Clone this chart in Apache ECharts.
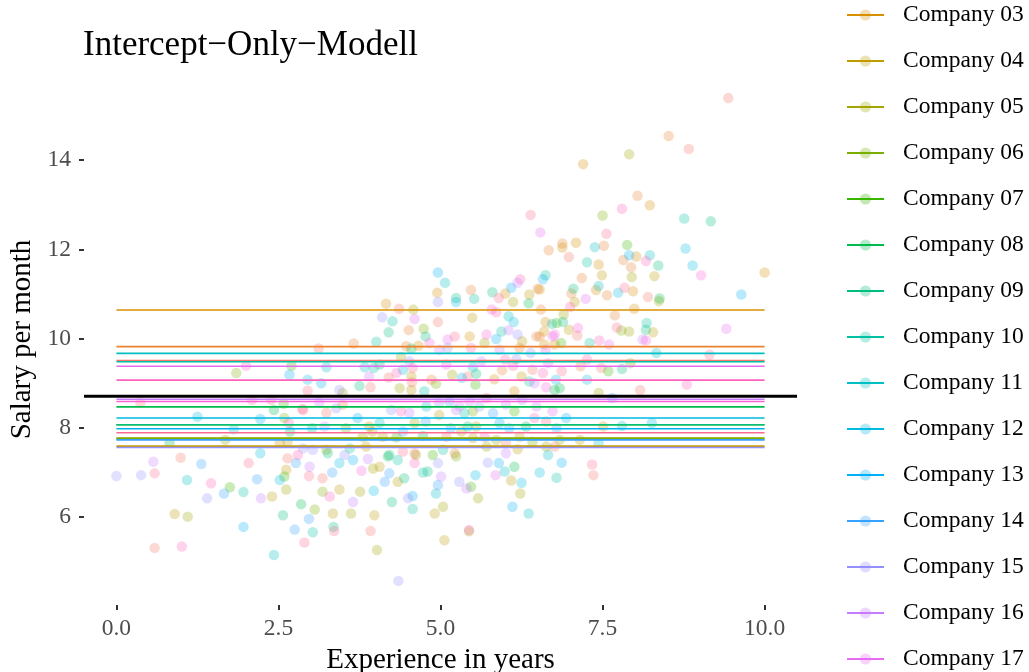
<!DOCTYPE html>
<html>
<head>
<meta charset="utf-8">
<script src="https://cdn.jsdelivr.net/npm/echarts@6/dist/echarts.min.js"></script>
<style>html,body{margin:0;padding:0;background:#fff;overflow:hidden}#chart{width:1029px;height:672px}</style>
</head>
<body>
<div id="chart"></div>
<script>
const companies = ["Company 01","Company 02","Company 03","Company 04","Company 05","Company 06","Company 07","Company 08","Company 09","Company 10","Company 11","Company 12","Company 13","Company 14","Company 15","Company 16","Company 17","Company 18","Company 19","Company 20"];
const colors = ["#F8766D","#EA8331","#D89000","#C09B00","#A3A500","#7CAE00","#39B600","#00BB4E","#00BF7D","#00C1A3","#00BFC4","#00BAE0","#00B0F6","#35A2FF","#9590FF","#C77CFF","#E76BF3","#FA62DB","#FF62BC","#FF6C91"];
const intercepts = [9.51, 9.82, 10.64, 7.59, 7.77, 7.76, 8.07, 8.47, 8.07, 9.48, 9.67, 8.22, 7.98, 7.73, 7.56, 8.64, 9.38, 8.59, 9.07, 7.89];
const overallMean = 8.71;
const xTicks = [0, 2.5, 5, 7.5, 10];
const yTicks = [6, 8, 10, 12, 14];

const c01 = [[8.83,14.25],[6.98,11.83],[8.20,10.93],[7.11,10.07],[4.36,10.67],[3.12,9.78],[4.20,9.13],[5.42,9.15],[6.42,9.30],[3.24,8.34],[5.09,7.80],[6.01,7.66],[4.60,7.43],[7.36,6.94],[3.92,5.69],[0.99,7.33],[0.59,5.31],[2.64,7.32],[0.37,8.56],[2.39,8.63],[7.48,9.34],[8.08,8.85],[6.76,7.58],[9.44,15.39],[4.96,10.37],[3.92,8.91],[4.56,9.02],[3.18,6.87]];
const c02 = [[8.04,13.20],[6.88,12.13],[6.67,11.98],[7.52,12.08],[7.82,11.76],[7.94,11.60],[7.18,11.36],[7.02,11.01],[7.57,10.97],[6.55,10.65],[7.69,10.52],[6.53,10.05],[5.47,11.09],[6.50,11.12],[4.51,10.19],[3.66,9.89],[6.48,10.05],[4.47,9.83],[6.22,9.79],[4.86,9.08],[5.95,9.29],[3.49,8.52],[5.22,7.43],[7.16,9.38],[8.52,14.54]];
const c03 = [[7.20,13.91],[8.23,12.99],[7.09,12.15],[6.88,12.04],[7.44,11.66],[8.02,11.84],[10.0,11.48],[6.53,11.10],[7.40,11.09],[7.97,11.06],[7.99,10.67],[6.60,10.16],[4.95,11.03],[6.00,11.01],[4.16,10.78],[6.62,10.37],[5.45,10.05],[6.60,9.87],[4.66,9.84],[6.76,9.87],[5.83,9.09],[6.14,8.82],[3.90,8.03],[2.52,7.66],[7.51,8.03]];
const c04 = [[7.49,11.42],[8.30,11.40],[7.07,10.82],[6.98,10.20],[8.28,10.14],[6.37,10.99],[5.49,10.47],[6.26,9.94],[4.55,9.15],[4.55,8.85],[6.25,9.15],[3.95,7.92],[4.11,7.80],[4.98,8.29],[5.32,7.92],[6.22,7.80],[5.50,7.77],[3.85,7.58],[6.19,7.52],[4.06,7.13],[4.34,6.79],[6.09,6.82],[7.15,7.73],[3.44,6.62],[3.34,6.08],[3.98,6.04],[4.91,6.08],[5.06,5.48],[0.90,6.07],[2.40,6.46],[2.62,7.06],[2.64,7.69]];
const c05 = [[7.91,14.13],[7.95,11.38],[8.37,10.84],[6.90,10.54],[7.91,10.16],[6.12,10.82],[4.58,10.65],[5.68,9.90],[4.39,9.59],[4.37,8.89],[5.18,9.19],[3.49,8.78],[3.80,7.80],[4.60,8.11],[5.55,8.03],[5.86,7.73],[6.63,7.58],[3.24,7.51],[5.71,7.58],[3.96,7.09],[4.62,7.39],[5.58,6.42],[6.23,6.53],[6.84,7.73],[3.76,6.57],[3.62,6.08],[4.02,5.26],[5.04,6.23],[5.44,5.68],[1.10,6.01],[2.62,6.62],[1.68,7.73],[7.44,8.78]];
const c06 = [[7.50,12.76],[7.79,10.18],[4.74,10.22],[4.93,8.99],[3.54,7.99],[5.50,8.37],[6.42,7.69],[5.24,7.36],[3.18,6.57],[3.06,6.17],[1.85,9.23],[2.59,8.22],[7.93,9.45]];
const c07 = [[7.88,12.10],[6.86,9.90],[6.79,10.35],[5.54,8.97],[4.32,7.79],[6.14,8.37],[4.88,7.39],[5.47,6.68],[1.75,6.67],[2.59,6.91],[2.70,9.39],[2.58,8.54],[7.59,9.27]];
const c08 = [[8.38,10.90],[6.36,10.79],[4.55,9.78],[6.76,8.85],[4.73,7.82],[6.32,8.03],[4.19,7.36],[6.14,7.13],[2.85,6.29],[0.82,7.66],[2.43,8.40],[2.68,7.92],[6.84,8.89]];
const c09 = [[9.17,12.63],[8.36,11.64],[7.05,11.12],[6.89,10.37],[8.17,10.20],[5.24,10.91],[5.80,11.04],[4.20,10.14],[4.77,10.05],[3.75,8.94],[4.06,9.42],[5.55,9.21],[3.02,7.99],[5.42,8.03],[4.21,7.39],[3.26,7.43],[4.44,6.87],[4.80,7.02],[4.25,6.34],[3.35,5.78],[2.57,6.04],[7.80,9.32]];
const c10 = [[8.76,12.69],[7.26,11.71],[6.62,11.42],[6.72,10.33],[8.18,10.35],[7.30,9.90],[5.52,10.89],[4.26,10.39],[4.01,9.93],[5.94,10.16],[3.97,9.34],[4.75,8.82],[6.37,9.04],[5.37,8.33],[3.60,7.54],[5.04,7.51],[4.34,7.28],[4.73,7.00],[6.79,6.88],[4.57,6.18],[1.96,6.56],[3.03,5.66]];
const c11 = [[7.38,12.05],[8.23,11.87],[7.44,11.18],[5.07,11.25],[6.05,10.50],[3.24,9.36],[3.83,9.36],[5.50,9.36],[4.06,8.11],[6.66,7.39],[4.93,6.53],[5.99,7.02],[6.36,6.08],[7.44,7.66],[1.09,6.83],[2.43,5.15],[1.81,7.97],[8.33,9.68],[7.80,8.04]];
const c12 = [[8.78,12.02],[8.89,11.64],[7.74,11.03],[5.24,10.82],[6.13,10.37],[2.95,9.08],[4.42,9.30],[6.78,9.08],[4.78,8.48],[3.44,7.21],[5.54,6.94],[6.25,6.77],[6.53,7.00],[3.97,6.59],[2.22,7.43],[2.52,6.83],[1.25,8.25],[7.26,9.08],[8.26,8.11]];
const c13 = [[7.91,11.87],[6.58,11.33],[9.64,10.99],[6.09,11.14],[5.86,9.99],[3.16,9.00],[5.33,9.12],[3.72,8.22],[5.91,8.11],[3.65,7.28],[5.90,7.21],[6.11,6.23],[6.87,7.22],[4.57,6.47],[1.96,5.78],[2.22,8.20],[2.67,9.19],[6.94,8.22],[4.96,11.48]];
const c14 = [[4.42,7.92],[4.77,8.14],[5.14,8.59],[5.16,7.99],[5.81,8.33],[6.06,7.99],[6.79,7.99],[3.33,7.00],[4.21,6.98],[4.14,6.79],[4.96,6.72],[1.31,7.19],[1.66,6.53],[2.17,6.85],[2.75,5.72],[2.97,5.96],[2.77,7.21],[7.65,8.67]];
const c15 = [[4.96,10.82],[4.10,10.48],[6.19,10.09],[5.11,9.79],[6.39,9.68],[4.52,9.49],[6.17,9.54],[3.44,8.85],[3.39,8.44],[4.24,8.40],[4.98,8.56],[5.60,8.48],[6.26,8.63],[2.88,7.54],[3.52,7.39],[4.96,7.21],[5.29,6.79],[5.73,7.22],[4.50,6.42],[4.35,4.57],[0.0,6.92],[0.38,6.94],[1.40,6.42],[3.03,7.51]];
const c16 = [[6.19,11.25],[6.05,10.19],[4.98,9.75],[5.91,9.75],[3.90,9.15],[5.63,9.49],[6.45,9.00],[3.13,8.57],[3.21,8.03],[4.52,8.34],[5.29,8.49],[6.01,8.52],[6.48,8.48],[6.01,7.43],[3.88,7.30],[5.01,6.91],[5.40,6.64],[3.65,6.34],[0.57,7.24],[2.23,6.42],[8.12,9.98],[5.24,8.40],[5.45,8.59],[2.98,7.13]];
const c17 = [[6.54,12.38],[7.24,10.89],[9.41,10.22],[7.60,9.87],[4.60,10.44],[5.11,9.98],[6.73,10.05],[6.62,9.75],[6.66,9.45],[6.73,8.37],[5.85,6.94]];
const c18 = [[9.02,11.42],[7.12,10.24],[6.76,10.09],[8.17,9.96],[5.79,10.65],[5.71,10.09],[4.83,9.90],[5.09,9.42],[6.63,8.91],[3.78,7.04]];
const c19 = [[7.80,12.91],[8.17,11.74],[7.00,10.71],[7.45,9.96],[5.86,10.59],[5.47,9.79],[4.32,9.23],[6.00,9.53],[6.58,9.23],[4.39,8.37],[6.45,8.22],[5.68,7.80],[4.60,7.21],[3.29,6.46],[5.44,5.71],[1.46,6.76],[1.01,5.34],[2.80,7.39],[2.00,9.39],[2.66,8.11],[7.26,9.53],[8.80,8.97],[6.23,11.33]];
const c20 = [[7.56,12.35],[7.84,11.14],[7.72,10.25],[5.90,10.91],[5.22,10.05],[2.95,8.83],[4.57,9.34],[6.12,9.39],[2.88,8.40],[5.71,8.67],[6.63,8.14],[4.42,7.47],[7.34,7.18],[3.36,5.69],[0.59,6.98],[2.04,7.21],[2.90,5.43],[2.97,6.92],[2.09,8.63],[2.87,8.42],[6.87,9.27],[9.15,9.64],[6.39,12.77]];
const points = [c01,c02,c03,c04,c05,c06,c07,c08,c09,c10,c11,c12,c13,c14,c15,c16,c17,c18,c19,c20];
const xRange = [0, 10];

const FONT = '"Liberation Serif", "Times New Roman", serif';
const series = [];
companies.forEach(function (name, i) {
  series.push({
    name: name, type: 'line', z: 3, silent: true,
    data: [[xRange[0], intercepts[i]], [xRange[1], intercepts[i]]],
    showSymbol: false, symbol: 'circle', symbolSize: 10,
    lineStyle: { color: colors[i], width: 1.6 },
    itemStyle: { color: colors[i], opacity: 0.3 },
    emphasis: { disabled: true }
  });
});
companies.forEach(function (name, i) {
  series.push({
    name: name, type: 'scatter', z: 2, silent: true,
    data: points[i], symbolSize: 10.5,
    itemStyle: { color: colors[i], opacity: 0.28 },
    emphasis: { disabled: true }
  });
});
series.push({
  name: 'overall', type: 'line', z: 4, silent: true,
  data: [[-0.5, overallMean], [10.5, overallMean]],
  showSymbol: false,
  lineStyle: { color: '#000', width: 3 }
});

const chart = echarts.init(document.getElementById('chart'), null, { renderer: 'canvas' });
chart.setOption({
  animation: false,
  backgroundColor: '#fff',
  textStyle: { fontFamily: FONT },
  title: {
    text: 'Intercept\u2212Only\u2212Modell',
    left: 83, top: 28, padding: 0,
    textStyle: { fontFamily: FONT, fontSize: 35, fontWeight: 'normal', color: '#000' }
  },
  legend: {
    data: companies,
    orient: 'vertical', padding: 0,
    left: 846, top: -89, height: 2000,
    itemWidth: 37, itemHeight: 14, itemGap: 22,
    selectedMode: false,
    itemStyle: { opacity: 0.3 },
    textStyle: { fontFamily: FONT, fontSize: 23.5, color: '#000', padding: [0, 0, 0, 14] }
  },
  grid: { left: 84, right: 232, top: 74, bottom: 67, containLabel: false, outerBoundsMode: 'none' },
  xAxis: {
    type: 'value', min: -0.5, max: 10.5,
    name: 'Experience in years', nameLocation: 'middle', nameGap: 40,
    nameTextStyle: { fontFamily: FONT, fontSize: 29, color: '#000' },
    axisLine: { show: false, onZero: false },
    axisTick: { show: true, length: 5, lineStyle: { color: '#333', width: 2 }, customValues: xTicks },
    axisLabel: { customValues: xTicks, margin: 12, fontFamily: FONT, fontSize: 23.5, color: '#4D4D4D',
      formatter: function (v) { return v.toFixed(1); } },
    splitLine: { show: false }
  },
  yAxis: {
    type: 'value', min: 4.03, max: 15.93,
    name: 'Salary per month', nameLocation: 'middle', nameGap: 34,
    nameTextStyle: { fontFamily: FONT, fontSize: 29, color: '#000' },
    axisLine: { show: false, onZero: false },
    axisTick: { show: true, length: 5, lineStyle: { color: '#333', width: 2 }, customValues: yTicks },
    axisLabel: { customValues: yTicks, margin: 13, fontFamily: FONT, fontSize: 23.5, color: '#4D4D4D' },
    splitLine: { show: false }
  },
  series: series
});
</script>
</body>
</html>
